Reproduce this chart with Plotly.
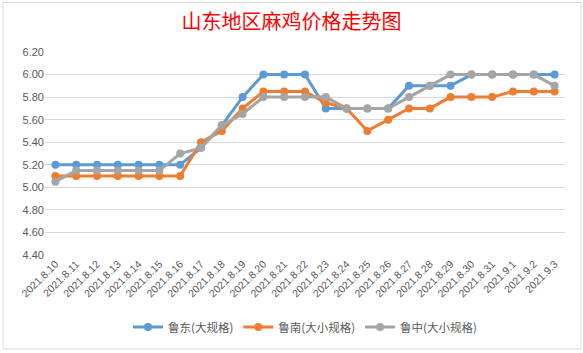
import plotly.graph_objects as go

dates = ["2021.8.10", "2021.8.11", "2021.8.12", "2021.8.13", "2021.8.14", "2021.8.15",
         "2021.8.16", "2021.8.17", "2021.8.18", "2021.8.19", "2021.8.20", "2021.8.21",
         "2021.8.22", "2021.8.23", "2021.8.24", "2021.8.25", "2021.8.26", "2021.8.27",
         "2021.8.28", "2021.8.29", "2021.8.30", "2021.8.31", "2021.9.1", "2021.9.2", "2021.9.3"]

ludong = [5.20, 5.20, 5.20, 5.20, 5.20, 5.20, 5.20, 5.35, 5.55, 5.80, 6.00, 6.00,
          6.00, 5.70, 5.70, 5.70, 5.70, 5.90, 5.90, 5.90, 6.00, 6.00, 6.00, 6.00, 6.00]
lunan = [5.10, 5.10, 5.10, 5.10, 5.10, 5.10, 5.10, 5.40, 5.50, 5.70, 5.85, 5.85,
         5.85, 5.75, 5.70, 5.50, 5.60, 5.70, 5.70, 5.80, 5.80, 5.80, 5.85, 5.85, 5.85]
luzhong = [5.05, 5.15, 5.15, 5.15, 5.15, 5.15, 5.30, 5.35, 5.55, 5.65, 5.80, 5.80,
           5.80, 5.80, 5.70, 5.70, 5.70, 5.80, 5.90, 6.00, 6.00, 6.00, 6.00, 6.00, 5.90]

series_names = ["鲁东(大规格)", "鲁南(大小规格)", "鲁中(大小规格)"]
series_values = [ludong, lunan, luzhong]
colors = ["#5B9BD5", "#ED7D31", "#A5A5A5"]

y_ticks = [4.40, 4.60, 4.80, 5.00, 5.20, 5.40, 5.60, 5.80, 6.00, 6.20]

fig = go.Figure()
for name, vals, c in zip(series_names, series_values, colors):
    fig.add_trace(go.Scatter(
        x=dates, y=vals, name=name, mode="lines+markers",
        line=dict(color=c, width=3),
        marker=dict(color=c, size=8, symbol="circle"),
    ))

fig.update_layout(
    width=583, height=353,
    margin=dict(l=45, r=18, t=52, b=98),
    paper_bgcolor="white", plot_bgcolor="white",
    font=dict(family="Liberation Sans, Noto Sans CJK SC", color="#595959"),
    title=dict(text="山东地区麻鸡价格走势图", x=0.5, xanchor="center",
               y=1 - 22 / 353, yanchor="middle",
               font=dict(family="Noto Sans CJK SC", size=20, color="#FF0000")),
    legend=dict(orientation="h", x=0.5, xanchor="center", y=-0.355, yanchor="middle",
                font=dict(family="Noto Sans CJK SC", size=11.5, color="#595959"),
                itemwidth=30, tracegroupgap=0),
    showlegend=True,
)
fig.update_xaxes(type="category", range=[-0.5, len(dates) - 0.5], tickangle=-45,
                 showgrid=False, showline=False, ticks="",
                 tickfont=dict(size=10.5, color="#595959", family="Liberation Sans"))
fig.update_yaxes(range=[4.40, 6.20], tickvals=y_ticks,
                 ticktext=[f"{v:.2f}" for v in y_ticks],
                 showgrid=True, gridcolor="#D9D9D9", gridwidth=1, zeroline=False,
                 showline=False, ticks="",
                 tickfont=dict(size=11, color="#595959", family="Liberation Sans"))

# chart area border
fig.add_shape(type="rect", xref="paper", yref="paper",
              x0=(3 - 45) / 520, x1=(581 - 45) / 520,
              y0=(255 - 349) / 203, y1=(255 - 2.5) / 203,
              line=dict(color="#D9D9D9", width=1), fillcolor="rgba(0,0,0,0)", layer="below")

fig.write_html("out.html")
